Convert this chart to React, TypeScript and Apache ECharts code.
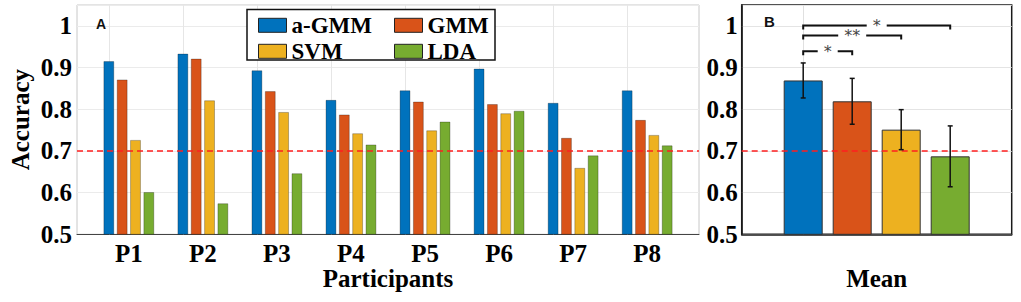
import React, { useEffect, useRef } from 'react';
import * as echarts from 'echarts';

const participants = ['P1', 'P2', 'P3', 'P4', 'P5', 'P6', 'P7', 'P8'];
const methods = ['a-GMM', 'GMM', 'SVM', 'LDA'];
const aGMM = [0.915, 0.933, 0.893, 0.822, 0.845, 0.897, 0.815, 0.845];
const GMM = [0.871, 0.921, 0.843, 0.787, 0.818, 0.812, 0.731, 0.774];
const SVM = [0.726, 0.821, 0.793, 0.742, 0.749, 0.790, 0.659, 0.738];
const LDA = [0.601, 0.574, 0.646, 0.715, 0.770, 0.796, 0.689, 0.713];
const meanCategory = ['Mean'];
const meanAcc = [0.869, 0.819, 0.751, 0.687];
const meanErr = [0.042, 0.055, 0.048, 0.073];
const sigPairs = [[0, 1], [0, 2], [0, 3]];
const sigLabels = ['*', '**', '*'];
const sigLevels = [0.939, 0.977, 1.001];
const threshold = 0.7;

const colors = ['#0072BD', '#D95319', '#EDB120', '#77AC30'];
const SERIF = "'Liberation Serif', 'Times New Roman', serif";
const B_W = 39;
const B_GAP = 10;
const B_PITCH = B_W + B_GAP;

const tickFmt = (v: number) => {
  if (Math.abs(v * 10 - Math.round(v * 10)) > 1e-6) return '';
  if (Math.abs(v - 1) < 1e-9) return '1';
  return v.toFixed(1);
};

const labelFont = { fontFamily: SERIF, fontWeight: 'bold' as const, fontSize: 25, color: '#000' };

export default function App() {
  const ref = useRef<HTMLDivElement>(null);
  useEffect(() => {
    if (!ref.current) return;
    const chart = echarts.init(ref.current, null, { renderer: 'svg' });
    const dataA = [aGMM, GMM, SVM, LDA];

    const seriesA: any[] = methods.map((name, k) => ({
      name,
      type: 'bar',
      xAxisIndex: 0,
      yAxisIndex: 0,
      barWidth: 10.5,
      barGap: '27%',
      data: dataA[k].map((v, i) => [i + 1, v]),
      itemStyle: { color: colors[k], borderColor: 'rgba(0,0,0,0.45)', borderWidth: 0.6 },
      z: 2,
    }));
    seriesA[0].markLine = {
      silent: true,
      symbol: 'none',
      z: 1,
      label: { show: false },
      lineStyle: { color: '#e6e6e6', type: 'solid', width: 1 },
      data: participants.map((_, i) => ({ xAxis: i + 1 })),
    };
    seriesA[3].markLine = {
      silent: true,
      symbol: 'none',
      label: { show: false },
      lineStyle: { color: '#ff1f1f', type: [6, 4], width: 1.6 },
      data: [{ yAxis: threshold }],
    };

    const seriesB: any[] = methods.map((name, k) => ({
      name,
      type: 'bar',
      xAxisIndex: 1,
      yAxisIndex: 1,
      barWidth: B_W,
      barGap: (B_GAP / B_W) * 100 + '%',
      data: [meanAcc[k]],
      itemStyle: { color: colors[k], borderColor: '#333', borderWidth: 1 },
      z: 2,
    }));
    seriesB[0].markLine = {
      silent: true,
      symbol: 'none',
      z: 1,
      label: { show: false },
      lineStyle: { color: '#e0e0e0', type: 'solid', width: 1 },
      data: [{ xAxis: meanCategory[0] }],
    };
    seriesB[3].markLine = {
      silent: true,
      symbol: 'none',
      label: { show: false },
      lineStyle: { color: '#ff1f1f', type: [6, 4], width: 1.6 },
      data: [{ yAxis: threshold }],
    };

    const errSeries = {
      type: 'custom',
      xAxisIndex: 1,
      yAxisIndex: 1,
      z: 10,
      data: meanAcc.map((m, i) => [0, m - meanErr[i], m + meanErr[i], i]),
      encode: { x: 0, y: [1, 2] },
      renderItem: (params: any, api: any) => {
        const lo = api.coord([0, api.value(1)]);
        const hi = api.coord([0, api.value(2)]);
        const x = lo[0] + (api.value(3) - 1.5) * B_PITCH;
        const st = { stroke: '#111', lineWidth: 1.5 };
        return {
          type: 'group',
          children: [
            { type: 'line', shape: { x1: x, y1: lo[1], x2: x, y2: hi[1] }, style: st },
            { type: 'line', shape: { x1: x - 2.5, y1: lo[1], x2: x + 2.5, y2: lo[1] }, style: st },
            { type: 'line', shape: { x1: x - 2.5, y1: hi[1], x2: x + 2.5, y2: hi[1] }, style: st },
          ],
        };
      },
    };

    const sigSeries = {
      type: 'custom',
      xAxisIndex: 1,
      yAxisIndex: 1,
      z: 10,
      data: sigPairs.map((p, k) => [0, sigLevels[k], p[0], p[1]]),
      encode: { x: 0, y: 1 },
      renderItem: (params: any, api: any) => {
        const c = api.coord([0, api.value(1)]);
        const x1 = c[0] + (api.value(2) - 1.5) * B_PITCH;
        const x2 = c[0] + (api.value(3) - 1.5) * B_PITCH;
        const y = c[1];
        return {
          type: 'group',
          children: [
            {
              type: 'polyline',
              shape: { points: [[x1, y + 4], [x1, y], [x2, y], [x2, y + 4]] },
              style: { stroke: '#111', lineWidth: 2, fill: 'none' },
            },
            {
              type: 'text',
              x: (x1 + x2) / 2,
              y: y,
              style: {
                text: sigLabels[params.dataIndex],
                fill: '#444',
                font: "16px 'DejaVu Sans', sans-serif",
                align: 'center',
                verticalAlign: 'middle',
                backgroundColor: '#fff',
                padding: [0, 6],
              },
            },
          ],
        };
      },
    };

    const legendCommon = {
      orient: 'vertical',
      top: 7.3,
      itemWidth: 28,
      itemHeight: 14,
      itemGap: 0,
      icon: 'rect',
      selectedMode: false,
      z: 10,
      itemStyle: { borderColor: '#222', borderWidth: 1 },
      textStyle: { fontFamily: SERIF, fontWeight: 'bold', fontSize: 23, color: '#000', lineHeight: 26 },
    };

    const yAxisBase = {
      type: 'value',
      min: 0.5,
      max: 1.05,
      interval: 0.1,
      axisTick: { show: false },
      axisLabel: { ...labelFont, formatter: tickFmt },
    };

    chart.setOption({
      animation: false,
      backgroundColor: '#fff',
      grid: [
        { left: 77, top: 5, width: 622, height: 229.3, show: true, borderColor: '#c8c8c8', borderWidth: 1 },
        { left: 741.7, top: 5, width: 270, height: 229.3, show: true, borderColor: '#1a1a1a', borderWidth: 1.5 },
      ],
      legend: [
        { ...legendCommon, left: 253, data: [methods[0], methods[2]] },
        { ...legendCommon, left: 389, data: [methods[1], methods[3]] },
      ],
      xAxis: [
        {
          type: 'value',
          gridIndex: 0,
          min: 0.3,
          max: 8.7,
          name: 'Participants',
          nameLocation: 'middle',
          nameGap: 32,
          nameMoveOverlap: false,
          nameTextStyle: labelFont,
          axisLine: { show: true, onZero: false, lineStyle: { color: '#444', width: 1 } },
          axisTick: { show: false },
          splitLine: { show: false },
          axisLabel: {
            ...labelFont,
            margin: 7,
            customValues: participants.map((_, i) => i + 1),
            formatter: (v: number) => participants[Math.round(v) - 1] ?? '',
          },
        },
        {
          type: 'category',
          gridIndex: 1,
          data: meanCategory,
          name: meanCategory[0],
          nameLocation: 'middle',
          nameGap: 32,
          nameMoveOverlap: false,
          nameTextStyle: labelFont,
          axisLine: { show: true, lineStyle: { color: '#1a1a1a', width: 1.5 } },
          axisTick: { show: false },
          axisLabel: { show: false },
          splitLine: { show: false },
        },
      ],
      yAxis: [
        {
          ...yAxisBase,
          gridIndex: 0,
          name: 'Accuracy',
          nameLocation: 'middle',
          nameGap: 44,
          nameRotate: 90,
          nameMoveOverlap: false,
          nameTextStyle: labelFont,
          axisLine: { show: false },
          splitLine: { show: true, lineStyle: { color: '#ebebeb', width: 1 } },
          axisLabel: { ...yAxisBase.axisLabel, margin: 5 },
        },
        {
          ...yAxisBase,
          gridIndex: 1,
          axisLine: { show: true, lineStyle: { color: '#1a1a1a', width: 1.5 } },
          splitLine: { show: true, lineStyle: { color: '#e4e4e4', width: 1 } },
          axisLabel: { ...yAxisBase.axisLabel, margin: 4 },
        },
      ],
      graphic: [
        {
          type: 'rect',
          z: 3,
          shape: { x: 247, y: 9.5, width: 248, height: 50.5 },
          style: { fill: '#fff', stroke: '#111', lineWidth: 1.5 },
        },
        {
          type: 'text',
          z: 3,
          x: 96,
          y: 16.5,
          style: { text: 'A', font: "bold 14px 'Liberation Sans', Arial, sans-serif", fill: '#111' },
        },
        {
          type: 'text',
          z: 3,
          x: 764,
          y: 13.5,
          style: { text: 'B', font: "bold 15px 'Liberation Sans', Arial, sans-serif", fill: '#111' },
        },
      ],
      series: [...seriesA, ...seriesB, errSeries, sigSeries],
    });
    return () => chart.dispose();
  }, []);
  return <div ref={ref} style={{ position: 'fixed', left: 0, top: 0, width: 1021, height: 302 }} />;
}
